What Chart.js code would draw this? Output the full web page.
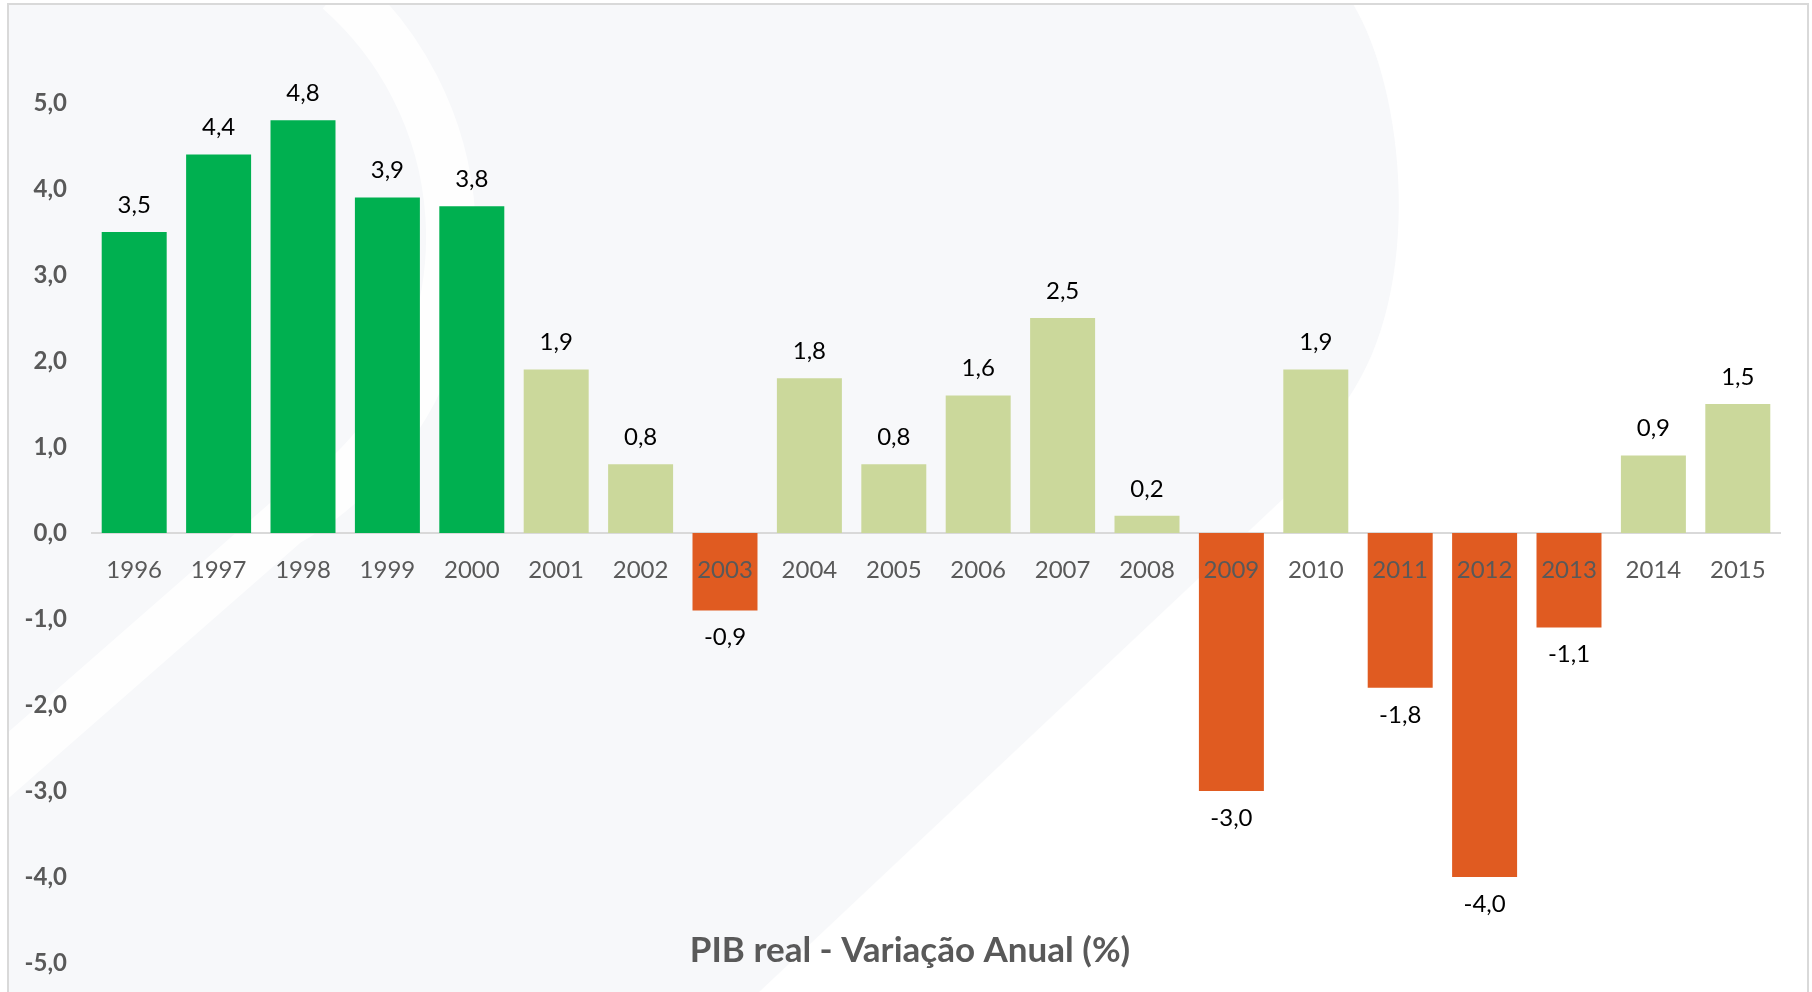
<!DOCTYPE html>
<html>
<head>
<meta charset="utf-8">
<title>PIB real - Variação Anual (%)</title>
<script src="https://cdn.jsdelivr.net/npm/chart.js@4.4.1/dist/chart.umd.min.js"></script>
<style>
  html, body { margin: 0; padding: 0; background: #ffffff; }
  #wrap { width: 1812px; height: 992px; position: relative; }
</style>
</head>
<body>
<div id="wrap"><canvas id="pib-chart"></canvas></div>
<script>
'use strict';

// data
let years = ['1996', '1997', '1998', '1999', '2000', '2001', '2002', '2003', '2004', '2005',
  '2006', '2007', '2008', '2009', '2010', '2011', '2012', '2013', '2014', '2015'];
let pibValues = [3.5, 4.4, 4.8, 3.9, 3.8, 1.9, 0.8, -0.9, 1.8, 0.8,
  1.6, 2.5, 0.2, -3.0, 1.9, -1.8, -4.0, -1.1, 0.9, 1.5];
let yTicks = [-5, -4, -3, -2, -1, 0, 1, 2, 3, 4, 5];
let chartTitle = 'PIB real - Variação Anual (%)';

let darkGreen = '#00b050';
let lightGreen = '#cbd89b';
let orange = '#e05b21';

function fmt(v) {
  return v.toFixed(1).replace('.', ',');
}

function barColor(i) {
  if (pibValues[i] < 0) return orange;
  if (i < 5) return darkGreen;
  return lightGreen;
}

// background + watermark shapes
let backgroundPlugin = {
  id: 'bgShapes',
  beforeDraw(chart) {
    let ctx = chart.ctx;
    ctx.save();
    ctx.fillStyle = '#ffffff';
    ctx.fillRect(0, 0, chart.width, chart.height);
    ctx.fillStyle = '#f7f8fa';
    ctx.fillRect(8, 4, 1800, 1000);

    // big white area on the right
    ctx.fillStyle = '#ffffff';
    ctx.beginPath();
    ctx.moveTo(1353, 4);
    ctx.bezierCurveTo(1405, 90, 1425, 290, 1347, 400);
    ctx.quadraticCurveTo(1320, 450, 1286, 496);
    ctx.lineTo(759, 992);
    ctx.lineTo(1808, 992);
    ctx.lineTo(1808, 4);
    ctx.closePath();
    ctx.fill();

    // white arc band on the left
    ctx.strokeStyle = 'rgba(255,255,255,0.8)';
    ctx.lineWidth = 50;
    ctx.beginPath();
    ctx.arc(122, 237, 329, -0.85, 1.05);
    ctx.lineTo(-20, 790);
    ctx.stroke();
    ctx.restore();

    // frame
    ctx.save();
    ctx.strokeStyle = '#d9d9d9';
    ctx.lineWidth = 2;
    ctx.strokeRect(8, 4, 1800, 1000);
    ctx.restore();
  }
};

let valueLabels = {
  id: 'valueLabels',
  afterDatasetsDraw(chart) {
    let ctx = chart.ctx;
    let meta = chart.getDatasetMeta(0);
    ctx.save();
    ctx.font = '24px Lato';
    ctx.fillStyle = '#000000';
    ctx.textAlign = 'center';
    ctx.textBaseline = 'middle';
    meta.data.forEach(function (bar, i) {
      let v = pibValues[i];
      let y = v >= 0 ? bar.y - 27 : bar.y + 27;
      ctx.fillText(fmt(v), bar.x, y);
    });
    ctx.restore();
  }
};

let bottomTitle = {
  id: 'bottomTitle',
  afterDraw(chart) {
    let ctx = chart.ctx;
    ctx.save();
    ctx.font = 'bold 35px Lato';
    ctx.fillStyle = '#595959';
    ctx.textAlign = 'center';
    ctx.textBaseline = 'middle';
    ctx.fillText(chartTitle, 910, 951);
    ctx.restore();
  }
};

// keep the tick label half-heights from pushing the chart area in
function noScalePadding(scale) {
  scale.paddingTop = 0;
  scale.paddingBottom = 0;
}

let canvasElem = document.getElementById('pib-chart');

new Chart(canvasElem, {
  type: 'bar',
  data: {
    labels: years,
    datasets: [{
      label: chartTitle,
      data: pibValues,
      backgroundColor: pibValues.map(function (v, i) { return barColor(i); }),
      borderWidth: 0,
      barPercentage: 0.77,
      categoryPercentage: 1
    }]
  },
  options: {
    responsive: true,
    maintainAspectRatio: false,
    animation: false,
    layout: {
      padding: { top: 103, right: 32, bottom: 29, left: 0 }
    },
    plugins: {
      legend: { display: false },
      title: { display: false },
      tooltip: { enabled: false }
    },
    scales: {
      x: {
        type: 'category',
        position: { y: 0 },
        afterFit: noScalePadding,
        grid: { display: false, drawTicks: false },
        border: { display: true, color: '#d9d9d9', width: 2 },
        ticks: {
          z: 1,
          color: '#595959',
          font: { family: 'Lato', size: 24 },
          padding: 23,
          maxRotation: 0,
          autoSkip: false
        }
      },
      y: {
        min: -5,
        max: 5,
        afterFit(scale) {
          scale.width = 92;
          noScalePadding(scale);
        },
        afterBuildTicks(scale) {
          scale.ticks = yTicks.map(function (v) { return { value: v }; });
        },
        grid: { display: false, drawTicks: false },
        border: { display: false },
        ticks: {
          color: '#595959',
          font: { family: 'Lato', size: 24, weight: 'bold' },
          padding: 25,
          callback: function (v) { return fmt(v); }
        }
      }
    }
  },
  plugins: [backgroundPlugin, valueLabels, bottomTitle]
});
</script>
</body>
</html>
